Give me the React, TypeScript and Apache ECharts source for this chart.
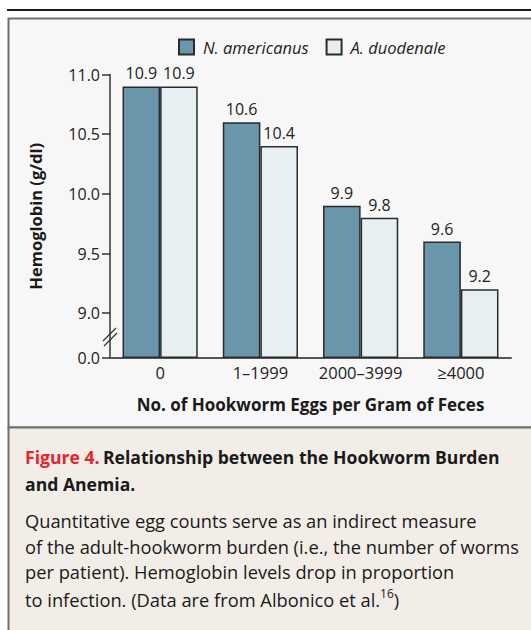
import React, { useEffect, useRef } from "react";
import * as echarts from "echarts";

const categories = ["0", "1\u20131999", "2000\u20133999", "\u22654000"];
const nAmericanus = [10.9, 10.6, 9.9, 9.6];
const aDuodenale = [10.9, 10.4, 9.8, 9.2];
const seriesNames = ["N. americanus", "A. duodenale"];
const yTickValues = [0, 9.0, 9.5, 10.0, 10.5, 11.0];

// axis break: values >= 9 are shifted down so 9.0 sits just above 0.0
const BREAK_OFFSET = 8.625;
const toDisplay = (v: number) => (v === 0 ? 0 : v - BREAK_OFFSET);
const fromDisplay = (d: number) => (d < 0.01 ? 0 : d + BREAK_OFFSET);

const FONT = "Open Sans";

export default function App() {
  const ref = useRef<HTMLDivElement>(null);
  useEffect(() => {
    if (!ref.current) return;
    const chart = echarts.init(ref.current, undefined, { renderer: "svg" });
    const barLabel = (arr: number[]) => ({
      show: true,
      position: "top" as const,
      distance: 5,
      fontFamily: FONT,
      fontSize: 16,
      color: "#222",
      formatter: (p: any) => arr[p.dataIndex].toFixed(1),
    });
    const tickVals = yTickValues.map(toDisplay);
    chart.setOption({
      animation: false,
      textStyle: { fontFamily: FONT },
      graphic: [
        { type: "line", shape: { x1: 7, y1: 10, x2: 531, y2: 10 }, style: { stroke: "#1a1a1a", lineWidth: 2 }, z: -1 },
        { type: "rect", shape: { x: 8.5, y: 18.5, width: 540, height: 409 }, style: { fill: "#f7f7f7", stroke: "#6f6f6f", lineWidth: 2 }, z: -10 },
        { type: "rect", shape: { x: 8.5, y: 427.5, width: 540, height: 220 }, style: { fill: "#f2ede7", stroke: "#6f6f6f", lineWidth: 2 }, z: -10 },
        { type: "line", shape: { x1: 103, y1: 341, x2: 116, y2: 328 }, style: { stroke: "#333", lineWidth: 1.2 }, z: 10 },
        { type: "line", shape: { x1: 104, y1: 346, x2: 117, y2: 333 }, style: { stroke: "#333", lineWidth: 1.2 }, z: 10 },
        {
          type: "text", left: 25, top: 448,
          style: {
            text: "{r|Figure 4.} {b|Relationship between the Hookworm Burden}\n{b|and Anemia.}",
            rich: {
              r: { fill: "#e3262e", fontWeight: "bold", fontSize: 17.6, fontFamily: FONT, lineHeight: 27 },
              b: { fill: "#1a1a1a", fontWeight: "bold", fontSize: 17.6, fontFamily: FONT, lineHeight: 27 },
            },
          },
        },
        {
          type: "text", left: 25, top: 508,
          style: {
            text: "Quantitative egg counts serve as an indirect measure\nof the adult-hookworm burden (i.e., the number of worms\nper patient). Hemoglobin levels drop in proportion",
            fill: "#1a1a1a", fontSize: 18.3, fontFamily: FONT, lineHeight: 25.5,
          },
        },
        {
          type: "text", left: 25, top: 587,
          style: {
            text: "{t|to infection. (Data are from Albonico et al.}{s|16}{t|)}",
            rich: {
              t: { fill: "#1a1a1a", fontSize: 18.3, fontFamily: FONT, lineHeight: 25.5 },
              s: { fill: "#1a1a1a", fontSize: 12, fontFamily: FONT, lineHeight: 15, verticalAlign: "top" },
            },
          },
        },
      ],
      legend: {
        left: 178,
        top: 38.5,
        padding: 0,
        itemWidth: 15,
        itemHeight: 15,
        itemGap: 17,
        icon: "rect",
        textStyle: { fontFamily: FONT, fontStyle: "italic", fontSize: 16.5, color: "#222", padding: [0, 0, 0, 4] },
        data: seriesNames,
      },
      grid: { left: 110, right: 20, top: 74.5, bottom: 272, containLabel: false },
      xAxis: {
        type: "category",
        data: categories,
        name: "No. of Hookworm Eggs per Gram of Feces",
        nameLocation: "middle",
        nameGap: 38,
        nameTextStyle: { fontFamily: FONT, fontWeight: "bold", fontSize: 17, color: "#1a1a1a" },
        axisLine: { lineStyle: { color: "#555", width: 2 } },
        axisTick: { show: false },
        axisLabel: { interval: 0, margin: 6, fontFamily: FONT, fontSize: 16.5, color: "#222" },
      },
      yAxis: {
        type: "value",
        min: 0,
        max: toDisplay(11.0),
        name: "Hemoglobin (g/dl)",
        nameLocation: "middle",
        nameGap: 66,
        nameTextStyle: { fontFamily: FONT, fontWeight: "bold", fontSize: 16.5, color: "#1a1a1a" },
        splitLine: { show: false },
        axisLine: { show: true, lineStyle: { color: "#333", width: 1.5 } },
        axisTick: { show: true, length: 8, customValues: tickVals, lineStyle: { color: "#333", width: 1.5 } },
        axisLabel: {
          margin: 10,
          fontFamily: FONT,
          fontSize: 16,
          color: "#222",
          customValues: tickVals,
          formatter: (v: number) => fromDisplay(v).toFixed(1),
        },
      },
      series: [
        {
          name: seriesNames[0],
          type: "bar",
          data: nAmericanus.map(toDisplay),
          barGap: "0%",
          barCategoryGap: "25%",
          itemStyle: { color: "#6a96ab", borderColor: "#2b2b2b", borderWidth: 1.5 },
          label: barLabel(nAmericanus),
        },
        {
          name: seriesNames[1],
          type: "bar",
          data: aDuodenale.map(toDisplay),
          barGap: "0%",
          barCategoryGap: "25%",
          itemStyle: { color: "#e7eff3", borderColor: "#2b2b2b", borderWidth: 1.5 },
          label: barLabel(aDuodenale),
        },
      ],
    });
    return () => chart.dispose();
  }, []);
  return <div ref={ref} style={{ position: "absolute", left: 0, top: 0, width: 531, height: 630 }} />;
}
